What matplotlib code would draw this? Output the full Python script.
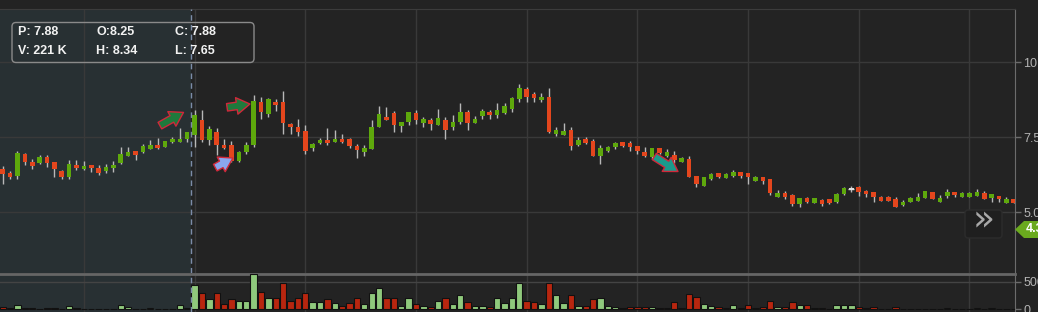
import numpy as np
import matplotlib.pyplot as plt
from matplotlib.patches import FancyBboxPatch, Polygon
from matplotlib.transforms import Affine2D

# daily OHLC
opens = [6.43, 6.29, 6.21, 6.93, 6.67, 6.62, 6.82, 6.67, 6.38, 6.16,
         6.57, 6.42, 6.57, 6.46, 6.36, 6.46, 6.62, 6.88, 7.03, 7.00,
         7.11, 7.24, 7.18, 7.32, 7.32, 7.43, 7.57, 8.07, 7.40, 7.68,
         7.23, 7.23, 6.71, 6.99, 7.23, 8.68, 8.27, 8.68, 8.68, 7.93,
         7.84, 7.69, 7.13, 7.29, 7.40, 7.33, 7.42, 7.42, 7.20, 7.01,
         7.10, 7.84, 8.18, 8.31, 7.87, 7.99, 8.31, 7.98, 8.07, 7.90,
         8.07, 7.82, 8.01, 8.34, 7.98, 8.20, 8.34, 8.23, 8.29, 8.42,
         8.76, 9.09, 8.93, 8.73, 8.84, 7.60, 7.57, 7.73, 7.23, 7.43,
         7.37, 6.88, 7.03, 7.16, 7.32, 7.31, 7.19, 7.00, 6.82, 7.12,
         6.87, 6.90, 6.66, 6.77, 6.20, 5.88, 6.09, 6.29, 6.14, 6.20,
         6.33, 6.29, 6.04, 6.17, 6.09, 5.51, 5.64, 5.57, 5.27, 5.48,
         5.31, 5.40, 5.42, 5.32, 5.59, 5.77, 5.82, 5.71, 5.68, 5.51,
         5.51, 5.42, 5.23, 5.34, 5.38, 5.48, 5.68, 5.34, 5.54, 5.68,
         5.51, 5.51, 5.54, 5.64, 5.46, 5.54, 5.31, 5.42]
highs = [6.53, 6.38, 7.03, 6.96, 6.78, 6.89, 6.89, 6.67, 6.40, 6.73,
         6.73, 6.71, 6.57, 6.57, 6.60, 6.70, 7.18, 7.16, 7.03, 7.27,
         7.40, 7.46, 7.38, 7.51, 7.79, 7.68, 8.40, 8.40, 7.87, 7.79,
         7.42, 7.38, 7.04, 7.32, 8.90, 8.84, 8.79, 8.76, 9.03, 7.98,
         8.09, 7.90, 7.31, 7.46, 7.79, 7.73, 7.60, 7.46, 7.27, 7.22,
         8.07, 8.53, 8.51, 8.38, 8.01, 8.34, 8.40, 8.18, 8.12, 8.42,
         8.16, 8.23, 8.64, 8.40, 8.21, 8.42, 8.40, 8.62, 8.62, 8.84,
         9.27, 9.18, 9.01, 8.96, 9.12, 7.84, 7.96, 7.84, 7.51, 7.49,
         7.42, 7.22, 7.21, 7.34, 7.34, 7.37, 7.19, 7.16, 7.14, 7.12,
         7.09, 7.03, 6.83, 6.87, 6.20, 6.17, 6.31, 6.29, 6.29, 6.40,
         6.33, 6.29, 6.20, 6.17, 6.11, 5.73, 5.71, 5.60, 5.46, 5.51,
         5.46, 5.43, 5.42, 5.62, 5.82, 5.87, 5.87, 5.73, 5.68, 5.53,
         5.53, 5.49, 5.40, 5.51, 5.64, 5.71, 5.68, 5.57, 5.76, 5.68,
         5.68, 5.67, 5.76, 5.71, 5.60, 5.54, 5.51, 5.42]
lows = [5.92, 6.09, 6.10, 6.57, 6.42, 6.60, 6.49, 6.16, 6.10, 6.10,
        6.40, 6.40, 6.33, 6.23, 6.31, 6.34, 6.60, 6.88, 6.73, 6.98,
        7.09, 7.09, 7.16, 7.29, 7.32, 7.32, 7.18, 7.34, 7.23, 6.90,
        7.10, 6.68, 6.66, 6.93, 7.18, 8.09, 8.18, 8.38, 7.59, 7.59,
        7.54, 6.93, 7.02, 7.27, 7.23, 7.33, 7.31, 7.14, 6.79, 6.88,
        7.09, 7.82, 8.07, 7.68, 7.68, 7.90, 7.93, 7.82, 7.73, 7.90,
        7.42, 7.73, 7.93, 7.73, 7.96, 8.09, 8.09, 8.12, 8.27, 8.34,
        8.68, 8.68, 8.66, 8.66, 7.62, 7.54, 7.57, 7.07, 7.21, 7.27,
        6.88, 6.59, 7.01, 7.09, 7.18, 7.04, 6.93, 6.82, 6.78, 6.93,
        6.84, 6.64, 6.66, 6.16, 5.84, 5.88, 6.07, 6.14, 6.12, 6.18,
        6.14, 5.93, 6.04, 5.93, 5.58, 5.51, 5.42, 5.20, 5.18, 5.29,
        5.31, 5.21, 5.27, 5.29, 5.57, 5.67, 5.54, 5.51, 5.34, 5.38,
        5.37, 5.18, 5.21, 5.34, 5.38, 5.48, 5.43, 5.34, 5.46, 5.51,
        5.49, 5.51, 5.54, 5.43, 5.34, 5.34, 5.31, 5.31]
closes = [6.26, 6.18, 6.96, 6.66, 6.53, 6.83, 6.62, 6.42, 6.16, 6.61,
          6.46, 6.53, 6.46, 6.29, 6.50, 6.57, 6.93, 7.00, 6.91, 7.20,
          7.24, 7.12, 7.36, 7.43, 7.43, 7.66, 8.23, 7.40, 7.77, 7.23,
          7.12, 6.70, 6.99, 7.23, 8.71, 8.34, 8.77, 8.57, 7.96, 7.82,
          7.66, 7.04, 7.27, 7.40, 7.29, 7.42, 7.33, 7.20, 7.07, 7.12,
          7.84, 8.27, 8.07, 7.90, 7.99, 8.32, 8.07, 8.11, 7.93, 8.14,
          7.73, 7.99, 8.34, 7.98, 8.10, 8.37, 8.23, 8.40, 8.53, 8.81,
          9.12, 8.84, 8.81, 8.84, 7.68, 7.73, 7.70, 7.21, 7.40, 7.29,
          6.88, 7.14, 7.16, 7.31, 7.20, 7.16, 7.03, 6.87, 7.12, 6.98,
          7.00, 6.73, 6.79, 6.18, 5.92, 6.17, 6.26, 6.18, 6.26, 6.33,
          6.20, 6.18, 6.18, 6.04, 5.62, 5.64, 5.51, 5.27, 5.46, 5.32,
          5.46, 5.27, 5.29, 5.60, 5.79, 5.77, 5.68, 5.59, 5.49, 5.38,
          5.38, 5.18, 5.34, 5.48, 5.51, 5.71, 5.43, 5.48, 5.68, 5.57,
          5.64, 5.64, 5.68, 5.43, 5.60, 5.42, 5.42, 5.31]
# volume in thousands
volumes = [43, 25, 74, 25, 25, 5, 25, 25, 6, 49,
           25, 3, 6, 6, 6, 6, 74, 43, 6, 6,
           25, 6, 6, 6, 74, 25, 444, 302, 185, 302,
           93, 185, 154, 154, 642, 321, 210, 210, 488, 154,
           210, 302, 136, 136, 185, 117, 62, 117, 210, 99,
           302, 395, 210, 210, 62, 210, 99, 62, 37, 154,
           210, 99, 259, 136, 62, 62, 37, 210, 117, 210,
           475, 154, 136, 93, 488, 253, 117, 259, 62, 62,
           185, 210, 62, 37, 25, 43, 43, 43, 43, 25,
           25, 136, 25, 278, 228, 93, 62, 37, 25, 68,
           25, 68, 25, 43, 154, 43, 43, 136, 68, 68,
           25, 25, 5, 68, 68, 68, 43, 25, 43, 5,
           5, 43, 5, 5, 5, 5, 5, 5, 25, 5,
           5, 5, 25, 5, 25, 5, 5, 5]

price_ticks = [5.0, 7.5, 10.0]
price_labels = ['5.0', '7.5', '10.0']
vol_ticks = [0, 500]
vol_labels = ['0', '500K']
info_rows = [['P: 7.88', 'O:8.25', 'C: 7.88'],
             ['V: 221 K', 'H: 8.34', 'L: 7.65']]
last_price = '4.37'
crosshair_at = 25.45

# hand-drawn arrows: (tail x, tail price, head x, head price, fill)
marks = [(21.3, 7.88, 24.5, 8.32, '#1f7a3c'),
         (30.4, 8.49, 33.5, 8.60, '#1f7a3c'),
         (28.8, 6.48, 31.2, 6.80, '#8aa6ee'),
         (88.3, 6.85, 91.5, 6.35, '#1a9a8c')]

W, H = 1038, 312
BG = '#232323'
SHADE = '#283033'
GRID = '#393939'
UP, DOWN = '#5ea80c', '#e4461d'
VUP, VDOWN = '#8fc97c', '#b8260f'

plt.rcParams['font.family'] = ['Liberation Sans', 'DejaVu Sans']
fig = plt.figure(figsize=(W / 100, H / 100), dpi=100, facecolor=BG)
pix = Affine2D().scale(1, -1).translate(0, H)


def fx(px):
    return px / W


def fy(py):
    return 1 - py / H


ax = fig.add_axes([0, fy(273), fx(1015), fy(9) - fy(273)])
axv = fig.add_axes([0, 0, fx(1015), fy(274)])

n = len(opens)
x = np.arange(n)
o = np.array(opens)
c = np.array(closes)
up = c >= o

for a in (ax, axv):
    a.set_facecolor(BG)
    a.set_xlim(-0.366, 137.17)
    a.axvspan(-1, crosshair_at, color=SHADE, lw=0, zorder=0)
    for g in range(11, n, 15):
        a.axvline(g, color=GRID, lw=1, zorder=1)
    a.axvline(crosshair_at, color='#7c8ca8', lw=1, ls=(0, (4, 3)), zorder=5)
    for s in ('left', 'bottom'):
        a.spines[s].set_visible(False)
    a.spines['right'].set_color('#6c6c6c')
    a.yaxis.tick_right()
    a.tick_params(axis='y', direction='out', length=4, width=1, color='#6c6c6c',
                  labelcolor='#b4b4b4', labelsize=9, pad=2)
    a.set_xticks([])

# price panel
ax.set_ylim(2.967, 11.767)
ax.set_yticks(price_ticks)
ax.set_yticklabels(price_labels)
for t in price_ticks:
    ax.axhline(t, color=GRID, lw=1, zorder=1)
ax.spines['top'].set_color('#3c3c3c')

ax.vlines(x, lows, highs, color='#b8b8b8', lw=1, zorder=3)
body = np.maximum(np.abs(c - o), 0.02)
cols = np.where(c > o, UP, np.where(c < o, DOWN, '#e0e0e0'))
ax.bar(x, body, bottom=np.minimum(o, c), width=0.62, color=cols, lw=0, zorder=4)
doji = c == o
ax.hlines(c[doji], x[doji] - 0.4, x[doji] + 0.4, color='#e0e0e0', lw=1, zorder=4)

for tx, tp, hx, hp, fc in marks:
    ax.annotate('', xy=(hx, hp), xytext=(tx, tp),
                arrowprops=dict(arrowstyle='simple,head_length=0.8,head_width=1.0,tail_width=0.45',
                                fc=fc, ec='#d0283a', lw=1, shrinkA=0, shrinkB=0,
                                mutation_scale=12), zorder=6)

# volume panel
axv.set_ylim(-55, 648)
axv.set_yticks(vol_ticks)
axv.set_yticklabels(vol_labels)
axv.axhline(500, color='#444444', lw=1, zorder=1)
axv.spines['top'].set_color('#666666')
axv.spines['top'].set_linewidth(2)
axv.bar(x, volumes, width=0.86, color=np.where(up, VUP, VDOWN),
        edgecolor='#111111', lw=0.8, zorder=3)

# info box
fig.patches.append(FancyBboxPatch((12, 22.5), 242, 40, boxstyle='round,pad=0,rounding_size=4',
                                  transform=pix, fc='none', ec='#8a8a8a', lw=1))
for r, row in enumerate(info_rows):
    for k, txt in enumerate(row):
        fig.text(18 + k * 78.5, 32 + r * 18.5, txt, transform=pix, color='#f2f2f2',
                 fontsize=9, fontweight='bold', va='center', ha='left')

# scroll button
fig.patches.append(FancyBboxPatch((965, 210), 37, 28, boxstyle='round,pad=0,rounding_size=3',
                                  transform=pix, fc='#1f1f1f', ec='#2c2c2c', lw=1))
fig.text(984, 220, '\u00bb', transform=pix, color='#a8a8a8', fontsize=26,
         ha='center', va='center', family='DejaVu Sans')

# last price tag
fig.patches.append(Polygon([(1015, 229.5), (1024, 221), (1040, 221), (1040, 238), (1024, 238)],
                           closed=True, transform=pix, fc='#6aaa1e', ec='none'))
fig.text(1026, 229.5, last_price, transform=pix, color='white', fontsize=9,
         fontweight='bold', va='center', ha='left')

fig.savefig('out.png', dpi=100, facecolor=BG)
